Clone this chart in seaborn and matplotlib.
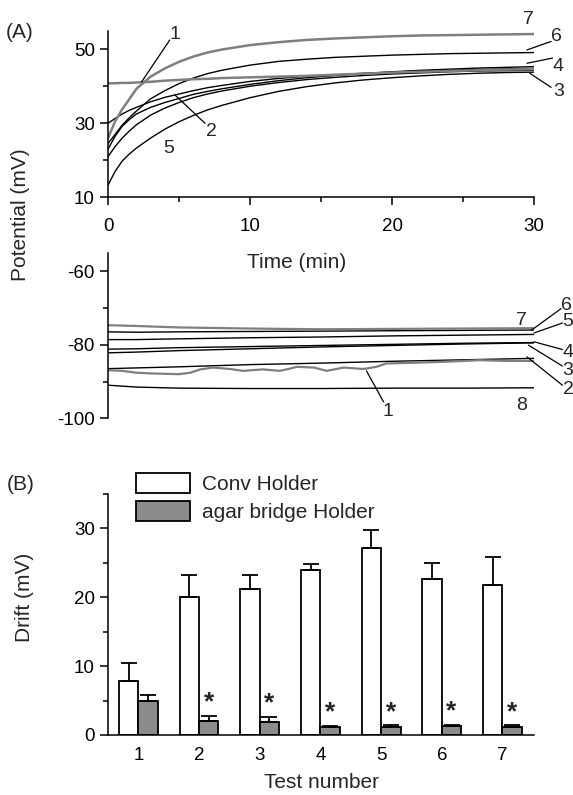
import matplotlib
matplotlib.use("Agg")
import numpy as np
import pandas as pd
import matplotlib.pyplot as plt
import seaborn as sns
from matplotlib.ticker import MultipleLocator

# (A) upper traces: potential vs time after immersion
t_top = [0, 0.5, 1, 1.5, 2, 3, 4, 5, 6, 7, 8, 10, 12, 14, 16, 18, 20, 22, 24, 26, 28, 30]
top_1 = [40.8, 40.8, 40.9, 40.9, 41.0, 41.2, 41.5, 41.7, 41.9, 42.0, 42.2, 42.4, 42.6, 42.8, 43.1, 43.4, 43.7, 43.9, 44.1, 44.3, 44.5, 44.6]
top_2 = [30.0, 31.3, 32.5, 33.5, 34.3, 35.8, 37.0, 37.9, 38.8, 39.6, 40.2, 41.3, 42.1, 42.7, 43.1, 43.5, 43.8, 44.1, 44.3, 44.5, 44.7, 44.8]
top_3 = [21.0, 23.7, 26.0, 27.9, 29.6, 32.2, 34.1, 35.6, 36.9, 37.9, 38.7, 40.0, 41.0, 41.8, 42.4, 42.9, 43.3, 43.6, 43.9, 44.1, 44.2, 44.3]
top_4 = [23.0, 26.5, 29.2, 31.0, 32.5, 34.3, 35.6, 36.7, 37.8, 38.6, 39.3, 40.5, 41.5, 42.3, 42.9, 43.4, 43.9, 44.3, 44.6, 44.9, 45.1, 45.3]
top_5 = [13.3, 17.0, 19.8, 21.7, 23.3, 26.0, 28.4, 30.4, 32.1, 33.6, 34.8, 36.9, 38.6, 39.9, 40.9, 41.7, 42.3, 42.8, 43.2, 43.5, 43.7, 43.8]
top_6 = [24.5, 27.0, 29.5, 31.5, 33.3, 36.6, 38.8, 40.7, 42.2, 43.4, 44.3, 45.7, 46.7, 47.3, 47.8, 48.1, 48.4, 48.6, 48.8, 48.9, 49.0, 49.1]
top_7 = [26.0, 30.5, 33.8, 36.5, 39.3, 42.6, 44.8, 46.6, 48.0, 49.1, 49.9, 51.1, 51.9, 52.5, 52.9, 53.2, 53.5, 53.7, 53.8, 53.9, 54.0, 54.1]

# (A) lower traces
t_low = [0, 2, 5, 10, 15, 20, 25, 30]
low_2 = [-86.5, -86.3, -86.0, -85.4, -85.0, -84.5, -84.1, -83.7]
low_3 = [-82.2, -82.0, -81.6, -81.1, -80.6, -80.2, -79.8, -79.5]
low_4 = [-81.2, -81.1, -80.8, -80.5, -80.2, -79.9, -79.6, -79.4]
low_5 = [-78.6, -78.6, -78.4, -78.1, -77.9, -77.6, -77.4, -77.2]
low_6 = [-76.5, -76.6, -76.5, -76.4, -76.3, -76.2, -76.1, -76.0]
low_7 = [-74.7, -74.9, -75.3, -75.6, -75.8, -75.7, -75.6, -75.5]
low_8 = [-91.0, -91.5, -91.8, -91.9, -91.9, -91.8, -91.8, -91.7]
t_low1 = [0, 1, 2, 3, 4, 5, 5.8, 6.5, 7.4, 8.6, 9.5, 10.9, 12.1, 12.8, 13.3, 14.5, 15.4, 16.6, 18, 18.9, 19.6, 21.5, 23.9, 26.2, 28, 30]
low_1 = [-86.9, -87.1, -87.6, -87.8, -87.9, -88.0, -87.6, -86.7, -86.2, -86.6, -87.1, -86.7, -87.1, -86.5, -86.0, -86.2, -87.1, -86.2, -86.6, -86.0, -85.1, -84.9, -84.6, -84.2, -84.4, -84.4]

# (B) drift per test
tests = ["1", "2", "3", "4", "5", "6", "7"]
conv_mean = [7.8, 20.1, 21.2, 23.9, 27.2, 22.6, 21.8]
conv_err = [2.6, 3.2, 2.1, 0.9, 2.6, 2.4, 4.0]
agar_mean = [5.0, 2.1, 1.9, 1.1, 1.2, 1.3, 1.2]
agar_err = [0.8, 0.7, 0.7, 0.2, 0.2, 0.2, 0.2]
holders = ["Conv Holder", "agar bridge Holder"]

GRAY = "#7f7f7f"
BAR_GRAY = "#8c8c8c"
TICK_FS = 13.5
LABEL_FS = 15
NUM_FS = 14

sns.set_style("ticks")
plt.rcParams["font.family"] = ["Liberation Sans", "DejaVu Sans"]
plt.rcParams.update({
    "axes.unicode_minus": False,
    "axes.linewidth": 1.1,
    "xtick.major.width": 1.1, "ytick.major.width": 1.1,
    "xtick.minor.width": 1.1, "ytick.minor.width": 1.1,
    "xtick.major.size": 6, "ytick.major.size": 6,
    "xtick.minor.size": 3.5, "ytick.minor.size": 3.5,
    "xtick.labelsize": TICK_FS, "ytick.labelsize": TICK_FS,
    "xtick.color": "black", "ytick.color": "black",
    "axes.edgecolor": "black",
})

fig = plt.figure(figsize=(5.73, 7.95), dpi=100)
left, width = 0.1885, 0.7435
ax1 = fig.add_axes([left, 0.7518, width, 0.2096])
ax2 = fig.add_axes([left, 0.4738, width, 0.2083])
ax3 = fig.add_axes([left, 0.0755, width, 0.3031])

# ---- upper traces
for vals, col, lw in [(top_3, "black", 1.0), (top_4, "black", 1.0), (top_5, "black", 1.0),
                      (top_2, "black", 1.0), (top_6, "black", 1.0),
                      (top_1, GRAY, 1.8), (top_7, GRAY, 1.8)]:
    sns.lineplot(x=t_top, y=vals, ax=ax1, color=col, lw=lw)
ax1.set_xlim(0, 30)
ax1.set_ylim(10, 55)
ax1.set_xticks([0, 10, 20, 30])
ax1.xaxis.set_minor_locator(MultipleLocator(5))
ax1.set_yticks([10, 30, 50])
ax1.yaxis.set_minor_locator(MultipleLocator(10))
ax1.tick_params(which="both", direction="out")
ax1.tick_params(axis="x", pad=9)
sns.despine(ax=ax1)

# number labels with leader lines (text pos, line start, line end)
top_notes = [("1", (4.7, 53.9), (4.35, 52.5), (2.37, 41.2)),
             ("2", (7.3, 27.7), (6.83, 30.0), (4.72, 37.6)),
             ("5", (4.3, 23.2), None, None),
             ("7", (29.6, 57.9), None, None),
             ("6", (31.6, 53.4), (31.2, 52.1), (29.5, 49.8)),
             ("4", (31.7, 45.3), (31.3, 47.6), (29.5, 46.2)),
             ("3", (31.7, 38.5), (31.2, 39.7), (29.7, 43.5))]
for lab, tp, p0, p1 in top_notes:
    ax1.text(tp[0], tp[1], lab, fontsize=NUM_FS, ha="center", va="center", clip_on=False)
    if p0 is not None:
        ax1.plot([p0[0], p1[0]], [p0[1], p1[1]], color="black", lw=0.9, clip_on=False)

# ---- lower traces
for vals, col, lw in [(low_2, "black", 1.0), (low_3, "black", 1.0), (low_4, "black", 1.0),
                      (low_5, "black", 1.0), (low_6, "black", 1.0), (low_8, "black", 1.0),
                      (low_7, GRAY, 1.6)]:
    sns.lineplot(x=t_low, y=vals, ax=ax2, color=col, lw=lw)
sns.lineplot(x=t_low1, y=low_1, ax=ax2, color=GRAY, lw=1.6)
ax2.set_xlim(0, 30)
ax2.set_ylim(-100, -55)
ax2.set_yticks([-100, -80, -60])
ax2.yaxis.set_minor_locator(MultipleLocator(10))
ax2.tick_params(which="both", direction="out")
ax2.set_xticks([])
ax2.set_xlabel("")
ax2.set_ylabel("")
sns.despine(ax=ax2, bottom=True)

low_notes = [("1", (19.7, -98.2), (19.4, -95.5), (18.2, -87.1)),
             ("8", (29.1, -96.4), None, None),
             ("7", (29.1, -73.4), None, None),
             ("6", (32.3, -69.3), (31.9, -70.2), (29.8, -76.1)),
             ("5", (32.4, -73.8), (32.0, -74.1), (30.0, -76.8)),
             ("4", (32.4, -82.0), (32.0, -81.3), (30.0, -79.2)),
             ("3", (32.4, -86.9), (32.0, -85.8), (29.6, -80.1)),
             ("2", (32.4, -92.3), (32.0, -91.0), (29.5, -83.3))]
for lab, tp, p0, p1 in low_notes:
    ax2.text(tp[0], tp[1], lab, fontsize=NUM_FS, ha="center", va="center", clip_on=False)
    if p0 is not None:
        ax2.plot([p0[0], p1[0]], [p0[1], p1[1]], color="black", lw=0.9, clip_on=False)

fig.text(297 / 573, 1 - 263 / 795, "Time (min)", fontsize=LABEL_FS, ha="center", va="center")
fig.text(21 / 573, 1 - 215 / 795, "Potential (mV)", fontsize=LABEL_FS, rotation=90, ha="center", va="center")
fig.text(20 / 573, 1 - 33 / 795, "(A)", fontsize=LABEL_FS, ha="center", va="center")

# ---- (B) bars
df = pd.DataFrame({
    "test": tests * 2,
    "drift": conv_mean + agar_mean,
    "holder": [holders[0]] * 7 + [holders[1]] * 7,
})
sns.barplot(data=df, x="test", y="drift", hue="holder", ax=ax3, order=tests,
            hue_order=holders, palette=["white", BAR_GRAY], width=0.64,
            edgecolor="black", linewidth=1.3, errorbar=None, saturation=1)

for cont, err, mean in zip(ax3.containers, [conv_err, agar_err], [conv_mean, agar_mean]):
    xs = [p.get_x() + p.get_width() / 2 for p in cont]
    ax3.errorbar(xs, mean, yerr=[np.zeros(len(err)), err], fmt="none", ecolor="black",
                 elinewidth=1.3, capsize=5.5, capthick=1.3)
agar_x = [p.get_x() + p.get_width() / 2 for p in ax3.containers[1]]
for i in range(1, 7):
    ax3.text(agar_x[i], agar_mean[i] + agar_err[i] + 0.2, "*", fontsize=19, fontweight="bold",
             ha="center", va="bottom")

ax3.set_xlim(-0.5, 6.52)
ax3.set_ylim(0, 35)
ax3.set_yticks([0, 10, 20, 30])
ax3.yaxis.set_minor_locator(MultipleLocator(5))
ax3.tick_params(axis="x", length=0, pad=9)
ax3.tick_params(axis="y", which="both", direction="out")
ax3.set_xlabel("Test number", fontsize=LABEL_FS, labelpad=6)
ax3.set_ylabel("")
sns.despine(ax=ax3)
ax3.legend(loc="upper left", bbox_to_anchor=(135.7 / 573, 1 - 473 / 795),
           bbox_transform=fig.transFigure, frameon=False, fontsize=15,
           handlelength=2.6, handleheight=1.1, handletextpad=0.6,
           labelspacing=0.35, borderpad=0, borderaxespad=0)
fig.text(25 / 573, 1 - 597 / 795, "Drift (mV)", fontsize=LABEL_FS, rotation=90, ha="center", va="center")
fig.text(21 / 573, 1 - 485 / 795, "(B)", fontsize=LABEL_FS, ha="center", va="center")

fig.savefig("out.png", dpi=100)
